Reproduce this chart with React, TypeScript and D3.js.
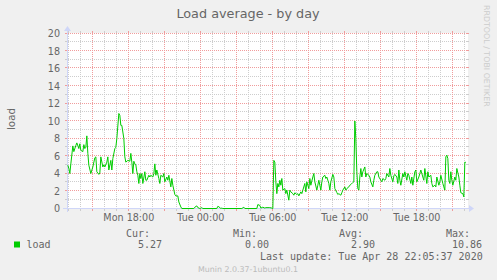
import React from 'react';
import * as d3 from 'd3';

// ---- data ----
const mondayTimes = [
  '12:55','13:00','13:05','13:10','13:20','13:25','13:35','13:40','13:50','13:55',
  '14:00','14:10','14:15','14:20','14:25','14:30','14:35','14:40','14:50','15:00',
  '15:10','15:15','15:20','15:30','15:35','15:40','15:50','15:55','16:00','16:10',
  '16:15','16:20','16:30','16:35','16:40','16:50','16:55','17:00','17:10','17:15',
  '17:20','17:25','17:35','17:40','17:45','17:55','18:05','18:10','18:15','18:20',
  '18:25','18:30','18:35','18:40','18:45','18:50','18:55','19:00','19:05','19:10',
  '19:20','19:25','19:30','19:40','19:45','19:50','20:00','20:05','20:10','20:15',
  '20:20','20:30','20:35','20:40','20:50','20:55','21:00','21:10','21:15','21:20',
  '21:30','21:35','21:40','21:50','21:55','22:05','22:10','22:20','22:25','23:25',
  '23:30','23:40','23:45','23:55'
];
const mondayLoads = [
  4.95, 4.57, 4.0, 5.1, 7.15, 6.5, 7.2, 7.5, 6.85, 7.4,
  6.65, 6.5, 7.3, 6.85, 7.0, 8.3, 6.3, 4.95, 4.0, 4.75,
  5.8, 5.9, 4.2, 3.9, 4.05, 5.9, 4.75, 5.0, 4.75, 5.3,
  5.9, 4.4, 5.5, 4.4, 5.7, 6.85, 7.0, 8.0, 10.86, 10.65,
  9.5, 9.5, 8.0, 5.9, 5.3, 5.5, 5.4, 6.3, 5.3, 4.0,
  5.4, 5.1, 5.0, 4.2, 3.8, 2.86, 4.0, 3.43, 4.0, 2.86,
  4.2, 3.23, 3.23, 3.8, 3.6, 3.8, 3.6, 4.0, 5.1, 3.8,
  4.4, 3.43, 2.86, 3.8, 3.6, 4.0, 3.05, 3.6, 3.23, 3.8,
  2.47, 3.43, 2.66, 1.6, 1.44, 1.44, 0.75, 0.18, 0, 0,
  0.15, 0.3, 0.1, 0
];
const tuesdayTimes = [
  '00:05','00:10','01:20','01:25','01:30','01:40','01:45','01:50','03:25','03:35',
  '03:40','04:40','04:45','04:55','05:00','05:10','05:20','05:25','05:45','05:55',
  '06:00','06:05','06:10','06:15','06:20','06:25','06:30','06:35','06:40','06:45',
  '06:50','07:00','07:05','07:10','07:20','07:25','07:30','07:40','07:45','07:50',
  '08:00','08:05','08:10','08:20','08:25','08:30','08:40','08:45','08:50','09:00',
  '09:05','09:10','09:20','09:25','09:30','09:40','09:45','09:50','10:00','10:05',
  '10:10','10:20','10:25','10:30','10:40','10:45','10:50','11:00','11:05','11:10',
  '11:20','11:25','11:30','11:40','11:45','11:50','12:00','12:05','12:10','12:20',
  '12:25','12:30','12:40','12:45','12:50','12:55','13:00','13:05','13:10','13:15',
  '13:20','13:25','13:30','13:40','13:45','13:50','14:00','14:05','14:10','14:20',
  '14:25','14:30','14:40','14:45','14:50','15:00','15:05','15:10','15:20','15:25',
  '15:30','15:40','15:45','15:50','16:00','16:05','16:10','16:20','16:25','16:30',
  '16:35','16:40','16:50','16:55','17:00','17:10','17:15','17:20','17:30','17:35',
  '17:40','17:50','17:55','18:00','18:10','18:15','18:20','18:30','18:35','18:40',
  '18:50','18:55','19:00','19:10','19:15','19:20','19:30','19:35','19:40','19:50',
  '19:55','20:00','20:10','20:15','20:20','20:25','20:30','20:35','20:40','20:45',
  '20:50','20:55','21:00','21:10','21:15','21:20','21:30','21:35','21:40','21:50',
  '21:55','22:00','22:05'
];
const tuesdayLoads = [
  0.1, 0, 0, 0.25, 0.2, 0, 0.05, 0, 0, 0.15,
  0, 0, 0.45, 0.35, 0.05, 0.15, 0.05, 0.1, 0.1, 0.05,
  0, 5.5, 5.3, 3.05, 1.7, 2.86, 2.47, 3.23, 2.66, 3.43,
  2.1, 2.28, 1.7, 2.1, 0.95, 2.1, 1.9, 1.7, 1.52, 1.8,
  1.6, 1.7, 1.44, 1.9, 1.7, 2.1, 2.86, 1.9, 3.05, 2.28,
  3.43, 2.66, 3.6, 4.0, 3.05, 2.1, 2.66, 3.23, 2.1, 3.05,
  3.6, 3.8, 3.43, 3.6, 2.86, 2.1, 3.05, 3.9, 3.6, 2.28,
  1.83, 1.6, 1.7, 1.52, 1.8, 2.1, 2.47, 2.1, 2.28, 2.47,
  2.66, 2.74, 2.97, 3.05, 10.0, 8.0, 4.2, 2.28, 2.1, 3.6,
  4.57, 3.6, 4.2, 4.75, 3.6, 4.0, 3.8, 3.6, 3.05, 2.47,
  3.23, 3.8, 4.2, 4.2, 3.6, 3.23, 3.05, 3.43, 3.23, 3.43,
  4.0, 3.6, 4.57, 3.8, 3.05, 3.73, 3.9, 3.6, 2.86, 4.4,
  3.23, 2.66, 4.0, 3.6, 4.2, 3.23, 4.0, 3.8, 2.86, 3.6,
  2.66, 4.2, 4.4, 3.05, 3.6, 4.0, 4.4, 3.6, 3.23, 4.57,
  2.86, 4.2, 3.6, 3.8, 2.86, 2.47, 2.66, 2.47, 3.6, 2.66,
  3.05, 3.8, 2.86, 2.47, 2.1, 5.9, 6.1, 5.7, 3.23, 2.86,
  4.2, 3.23, 2.66, 3.6, 3.23, 4.57, 3.6, 2.66, 1.8, 1.7,
  1.33, 5.3, 5.27
];

const yTickValues = [0, 2, 4, 6, 8, 10, 12, 14, 16, 18, 20];
const xLabelTimes = ['2020-04-27 18:00', '2020-04-28 00:00', '2020-04-28 06:00', '2020-04-28 12:00', '2020-04-28 18:00'];
const legendHeaders = ['Cur:', 'Min:', 'Avg:', 'Max:'];
const legendValues = ['5.27', '0.00', '2.90', '10.86'];
const seriesName = 'load';
const titleText = 'Load average - by day';
const yAxisTitle = 'load';
const lastUpdate = 'Last update: Tue Apr 28 22:05:37 2020';
const watermark = 'Munin 2.0.37-1ubuntu0.1';
const sideText = 'RRDTOOL / TOBI OETIKER';

const SANS = '"DejaVu Sans", sans-serif';
const MONO = '"DejaVu Sans Mono", monospace';
const LINE = '#00CC00';
const FONT = '#666666';
const AXIS = '#CFD6F8';

export default function App() {
  const W = 497, H = 280;
  const X0 = 67, X1 = 467, Y0 = 208, Y1 = 33;
  const parse = d3.timeParse('%Y-%m-%d %H:%M');
  const parseS = d3.timeParse('%Y-%m-%d %H:%M:%S');
  const start = parseS('2020-04-27 12:53:20') as Date;
  const end = parseS('2020-04-28 22:13:20') as Date;

  const x = d3.scaleTime().domain([start, end]).range([X0 + 0.5, X1 + 0.5]);
  const y = d3.scaleLinear().domain([0, 20]).range([Y0 + 0.5, Y1 + 0.5]);

  const data: { t: Date; v: number }[] = [
    ...mondayTimes.map((t, i) => ({ t: parse('2020-04-27 ' + t) as Date, v: mondayLoads[i] })),
    ...tuesdayTimes.map((t, i) => ({ t: parse('2020-04-28 ' + t) as Date, v: tuesdayLoads[i] })),
  ];
  const line = d3.line<{ t: Date; v: number }>().x(d => x(d.t)).y(d => y(d.v));

  const hours = d3.timeHour.range(start, end);
  const minorY = d3.range(0, 21, 1);
  const fmt = d3.timeFormat('%a %H:%M');

  const snap = (v: number) => Math.floor(v) + 0.5;
  const gridGray = '#CDCDCD';
  const gridRed = '#F09C9C';

  const headerRight = [150, 257, 363, 470];
  const valueRight = [162, 269, 375, 482];

  const vLines = hours
    .map(h => ({ xx: snap(x(h) - 0.5), major: h.getHours() % 3 === 0 }))
    .filter(d => d.xx > X0 + 1 && d.xx < X1 + 1);

  return (
    <svg width={W} height={H} style={{ position: 'absolute', left: 0, top: 0 }} xmlns="http://www.w3.org/2000/svg">
      <rect x={0} y={0} width={W} height={H} fill="#F0F0F0" />
      <rect x={X0} y={Y1} width={X1 - X0 + 1} height={Y0 - Y1 + 1} fill="#FFFFFF" />

      {/* minor grid first, major over it */}
      {[false, true].map(majorPass => (
        <g key={'pass' + majorPass}>
          {minorY.filter(v => (v % 2 === 0) === majorPass).map(v => {
            const yy = snap(y(v) - 0.5);
            const c = majorPass ? gridRed : gridGray;
            return (
              <g key={'h' + v}>
                <line x1={X0 - 2} x2={X0} y1={yy} y2={yy} stroke={c} />
                <line x1={X1} x2={X1 + 2} y1={yy} y2={yy} stroke={c} />
                <line x1={X0 - 1} x2={X1 + 1} y1={yy} y2={yy} stroke={c} strokeDasharray="1,1" />
              </g>
            );
          })}
          {vLines.filter(d => d.major === majorPass).map((d, i) => {
            const c = majorPass ? gridRed : gridGray;
            return (
              <g key={'v' + i}>
                <line x1={d.xx} x2={d.xx} y1={Y0 + 1} y2={Y0 + 3} stroke={c} />
                <line x1={d.xx} x2={d.xx} y1={Y1 - 2} y2={Y1} stroke={c} />
                <line x1={d.xx} x2={d.xx} y1={Y0 + 1} y2={Y1 - 1} stroke={c} strokeDasharray="1,1" />
              </g>
            );
          })}
        </g>
      ))}

      {/* axes */}
      <line x1={X0 - 4} x2={X1 + 4} y1={Y0 + 0.5} y2={Y0 + 0.5} stroke={AXIS} />
      <line x1={X0 + 0.5} x2={X0 + 0.5} y1={Y0 + 4} y2={Y1 - 4} stroke={AXIS} />
      <polygon points={`${X1 + 2},${Y0 - 3} ${X1 + 2},${Y0 + 4} ${X1 + 7},${Y0 + 0.5}`} fill={AXIS} />
      <polygon points={`${X0 - 3},${Y1 - 2} ${X0 + 4},${Y1 - 2} ${X0 + 0.5},${Y1 - 7}`} fill={AXIS} />

      {/* data line (drawn over the axis, as in the reference) */}
      <path d={line(data) || ''} fill="none" stroke={LINE} strokeWidth={1} />

      {/* y tick labels */}
      {yTickValues.map(v => (
        <text key={'yl' + v} x={60} y={y(v) + 3.5} textAnchor="end" fontFamily={SANS} fontSize={9.6} fill={FONT}>
          {v}
        </text>
      ))}

      {/* x tick labels */}
      {xLabelTimes.map(s => {
        const d = parse(s) as Date;
        return (
          <text key={s} x={x(d)} y={221} textAnchor="middle" fontFamily={SANS} fontSize={9.6} fill={FONT}>
            {fmt(d)}
          </text>
        );
      })}

      <text x={248} y={17.6} textAnchor="middle" fontFamily={SANS} fontSize={12.8} fill={FONT}>
        {titleText}
      </text>

      <text transform="translate(15,119) rotate(-90)" textAnchor="middle" fontFamily={SANS} fontSize={10.3} fill={FONT}>
        {yAxisTitle}
      </text>

      <text transform="translate(484,5) rotate(90)" textAnchor="start" fontFamily={SANS} fontSize={7.9} fill="#CCCCCC">
        {sideText}
      </text>

      {legendHeaders.map((h, i) => (
        <text key={h} x={headerRight[i]} y={236.5} textAnchor="end" fontFamily={MONO} fontSize={10} fill={FONT}>
          {h}
        </text>
      ))}
      <rect x={14} y={241.5} width={6} height={6} fill={LINE} />
      <text x={26.5} y={248.3} fontFamily={MONO} fontSize={10} fill={FONT}>{seriesName}</text>
      {legendValues.map((v, i) => (
        <text key={'lv' + i} x={valueRight[i]} y={248.3} textAnchor="end" fontFamily={MONO} fontSize={10} fill={FONT}>
          {v}
        </text>
      ))}
      <text x={482.7} y={260} textAnchor="end" fontFamily={MONO} fontSize={10} fill={FONT}>
        {lastUpdate}
      </text>
      <text x={248} y={272} textAnchor="middle" fontFamily={SANS} fontSize={7.9} fill="#BBBBBB">
        {watermark}
      </text>
    </svg>
  );
}
